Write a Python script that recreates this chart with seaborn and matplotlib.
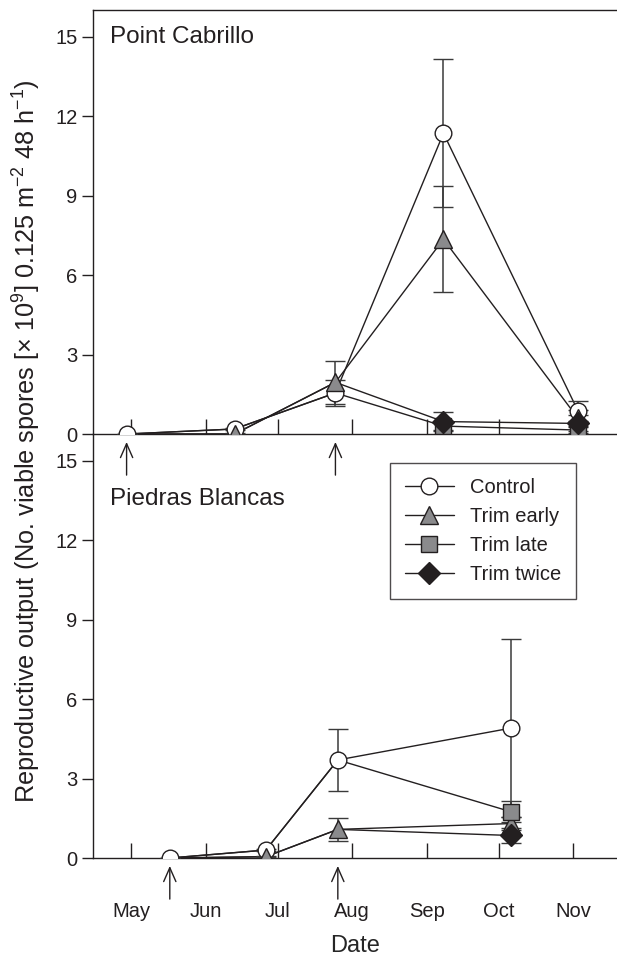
import numpy as np
import pandas as pd
import seaborn as sns
import matplotlib.pyplot as plt

# month ticks as day of year
month_days = [121, 152, 182, 213, 244, 274, 305]
month_labels = ["May", "Jun", "Jul", "Aug", "Sep", "Oct", "Nov"]

# Point Cabrillo (top panel)
pc_days = [119, 164, 206, 251, 307]
pc_control = [0.0, 0.19, 1.55, 11.35, 0.88]
pc_control_se = [0.0, 0.05, 0.5, 2.8, 0.37]
pc_early = [np.nan, 0.0, 1.95, 7.35, 0.6]
pc_early_se = [np.nan, 0.02, 0.8, 2.0, 0.3]
pc_late = [np.nan, np.nan, np.nan, 0.3, 0.15]
pc_late_se = [np.nan, np.nan, np.nan, 0.15, 0.1]
pc_twice = [np.nan, np.nan, np.nan, 0.47, 0.4]
pc_twice_se = [np.nan, np.nan, np.nan, 0.36, 0.3]
pc_trims = [119, 206]

# Piedras Blancas (bottom panel)
pb_days = [137, 177, 207, 279]
pb_control = [0.0, 0.3, 3.7, 4.9]
pb_control_se = [0.0, 0.05, 1.18, 3.37]
pb_early = [np.nan, 0.05, 1.08, 1.3]
pb_early_se = [np.nan, 0.03, 0.42, 0.25]
pb_late = [np.nan, np.nan, np.nan, 1.75]
pb_late_se = [np.nan, np.nan, np.nan, 0.4]
pb_twice = [np.nan, np.nan, np.nan, 0.85]
pb_twice_se = [np.nan, np.nan, np.nan, 0.3]
pb_trims = [137, 207]

INK = "#231f20"
GREY = "#8a8a8c"
STYLES = {
    "Control": dict(marker="o", mfc="white", ms=12),
    "Trim early": dict(marker="^", mfc=GREY, ms=12.5),
    "Trim late": dict(marker="s", mfc=GREY, ms=11),
    "Trim twice": dict(marker="D", mfc=INK, ms=11.5),
}

sns.set_style("ticks")
plt.rcParams["font.family"] = ["Liberation Sans", "DejaVu Sans"]
plt.rcParams["mathtext.fontset"] = "custom"
plt.rcParams["mathtext.rm"] = "Liberation Sans"
plt.rcParams["mathtext.default"] = "regular"
plt.rcParams["text.color"] = INK
plt.rcParams["axes.edgecolor"] = INK
plt.rcParams["xtick.color"] = INK
plt.rcParams["ytick.color"] = INK


def draw_panel(ax, days, series, trims, name):
    control, early, late, twice = [np.asarray(s[0], dtype=float) for s in series]
    # treatment paths branch off from the series they were trimmed from
    early_path = np.where(np.isnan(early), control, early)
    late_path = np.where(np.isnan(late), control, late)
    twice_path = np.where(np.isnan(twice), early_path, twice)
    for path in [control, early_path, late_path, twice_path]:
        sns.lineplot(x=days, y=path, ax=ax, color=INK, lw=1, sort=False, estimator=None, zorder=1)

    handles = []
    for label, (vals, se) in zip(STYLES, series):
        ax.errorbar(days, vals, yerr=se, color=INK, ecolor="#3a3a3a", elinewidth=1.1,
                    capsize=7.2, capthick=1.1, lw=0, mec=INK, mew=1, zorder=3,
                    **STYLES[label])
        handles.append(plt.Line2D([], [], color=INK, lw=1, mec=INK, mew=1, **STYLES[label]))

    for d in trims:
        ax.annotate("", xy=(d, -0.3), xytext=(d, -1.55), annotation_clip=False,
                    arrowprops=dict(arrowstyle="->,head_length=0.5,head_width=0.22",
                                    color=INK, lw=1, mutation_scale=20, shrinkA=0, shrinkB=0))

    ax.text(0.032, 0.962 if name == "Point Cabrillo" else 0.873, name, transform=ax.transAxes,
            fontsize=17.5, va="top", ha="left")
    ax.set_xlim(105, 323.3)
    ax.set_ylim(0, 16)
    ax.set_yticks([0, 3, 6, 9, 12, 15])
    ax.set_xticks(month_days)
    ax.tick_params(axis="y", direction="out", length=8, width=1, labelsize=14.5, pad=3)
    ax.tick_params(axis="x", direction="in", length=11, width=1)
    ax.spines["right"].set_visible(False)
    for sp in ax.spines.values():
        sp.set_linewidth(1)
    ax.set_xlabel("")
    ax.set_ylabel("")
    return handles


fig = plt.figure(figsize=(6.17, 9.56), dpi=100)
ax_bot = fig.add_axes([0.1507, 0.1025, 0.8493, 0.4435])
ax_top = fig.add_axes([0.1507, 0.546, 0.8493, 0.4435])
ax_bot.patch.set_visible(False)
ax_top.patch.set_visible(False)

draw_panel(ax_top, pc_days,
           [(pc_control, pc_control_se), (pc_early, pc_early_se),
            (pc_late, pc_late_se), (pc_twice, pc_twice_se)],
           pc_trims, "Point Cabrillo")
handles = draw_panel(ax_bot, pb_days,
                     [(pb_control, pb_control_se), (pb_early, pb_early_se),
                      (pb_late, pb_late_se), (pb_twice, pb_twice_se)],
                     pb_trims, "Piedras Blancas")

ax_top.set_xticklabels([])
ax_bot.spines["top"].set_visible(False)
ax_bot.set_xticklabels(month_labels, fontsize=14.5)
ax_bot.tick_params(axis="x", pad=32)
ax_bot.set_xlabel("Date", fontsize=17, labelpad=10)

leg = ax_bot.legend(handles, list(STYLES), loc="upper right", bbox_to_anchor=(0.922, 0.932),
                    borderaxespad=0, fontsize=14.5, frameon=True, fancybox=False,
                    handlelength=2.4, labelspacing=0.5, borderpad=0.75, handletextpad=0.8)
leg.get_frame().set_edgecolor(INK)
leg.get_frame().set_linewidth(1)

fig.text(0.043, 0.539,
         r"Reproductive output (No. viable spores [$\times$ 10$^{9}$] 0.125 m$^{-2}$ 48 h$^{-1}$)",
         rotation=90, va="center", ha="center", fontsize=18.2)

fig.savefig("out.png", dpi=100)
